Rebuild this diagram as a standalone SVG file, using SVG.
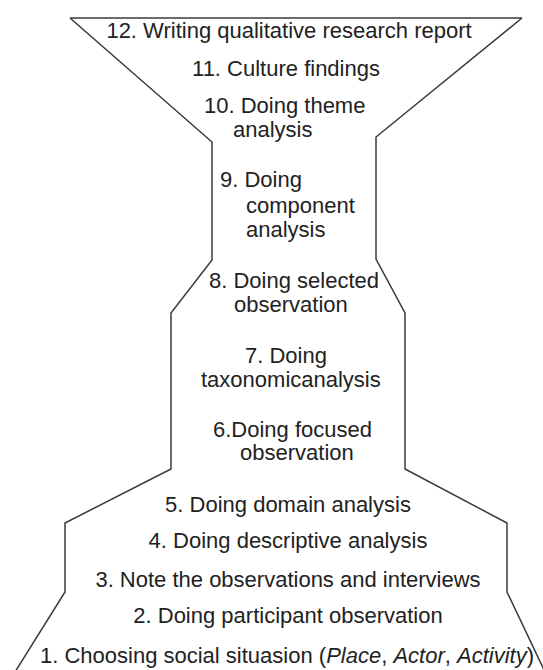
<svg xmlns="http://www.w3.org/2000/svg" width="543" height="670" viewBox="0 0 543 670">
<style>
.o{fill:none;stroke:#3a3a3a;stroke-width:1.5;stroke-linejoin:miter}
text{font-family:"Liberation Sans",Arial,sans-serif;font-size:22px;fill:#222}
.c{text-anchor:middle}
</style>
<rect width="543" height="670" fill="#fff"/>
<g id="outline">
<polyline class="o" points="70,18 522,18"/>
<polyline class="o" points="70,18 212,142 212,260 171,313 171,469 65,523 65,592 15,672"/>
<polyline class="o" points="522,18 376,137 376,259 405,313 405,469 507,523 507,592 545,672"/>
</g>
<g id="step12"><text class="c" x="289" y="38">12. Writing qualitative research report</text></g>
<g id="step11"><text class="c" x="286" y="76">11. Culture findings</text></g>
<g id="step10"><text x="204" y="113">10. Doing theme</text><text x="233" y="137">analysis</text></g>
<g id="step9"><text x="220" y="187">9. Doing</text><text x="246" y="213">component</text><text x="246" y="237">analysis</text></g>
<g id="step8"><text x="209" y="288">8. Doing selected</text><text x="234" y="312">observation</text></g>
<g id="step7"><text x="245" y="363">7. Doing</text><text x="201" y="387">taxonomicanalysis</text></g>
<g id="step6"><text x="213" y="437">6.Doing focused</text><text x="240" y="460">observation</text></g>
<g id="step5"><text class="c" x="288" y="512">5. Doing domain analysis</text></g>
<g id="step4"><text class="c" x="288" y="548">4. Doing descriptive analysis</text></g>
<g id="step3"><text class="c" x="288" y="587">3. Note the observations and interviews</text></g>
<g id="step2"><text class="c" x="288" y="623">2. Doing participant observation</text></g>
<g id="step1"><text class="c" x="287" y="663">1. Choosing social situasion (<tspan font-style="italic">Place</tspan>, <tspan font-style="italic">Actor</tspan>, <tspan font-style="italic">Activity</tspan>)</text></g>
</svg>
